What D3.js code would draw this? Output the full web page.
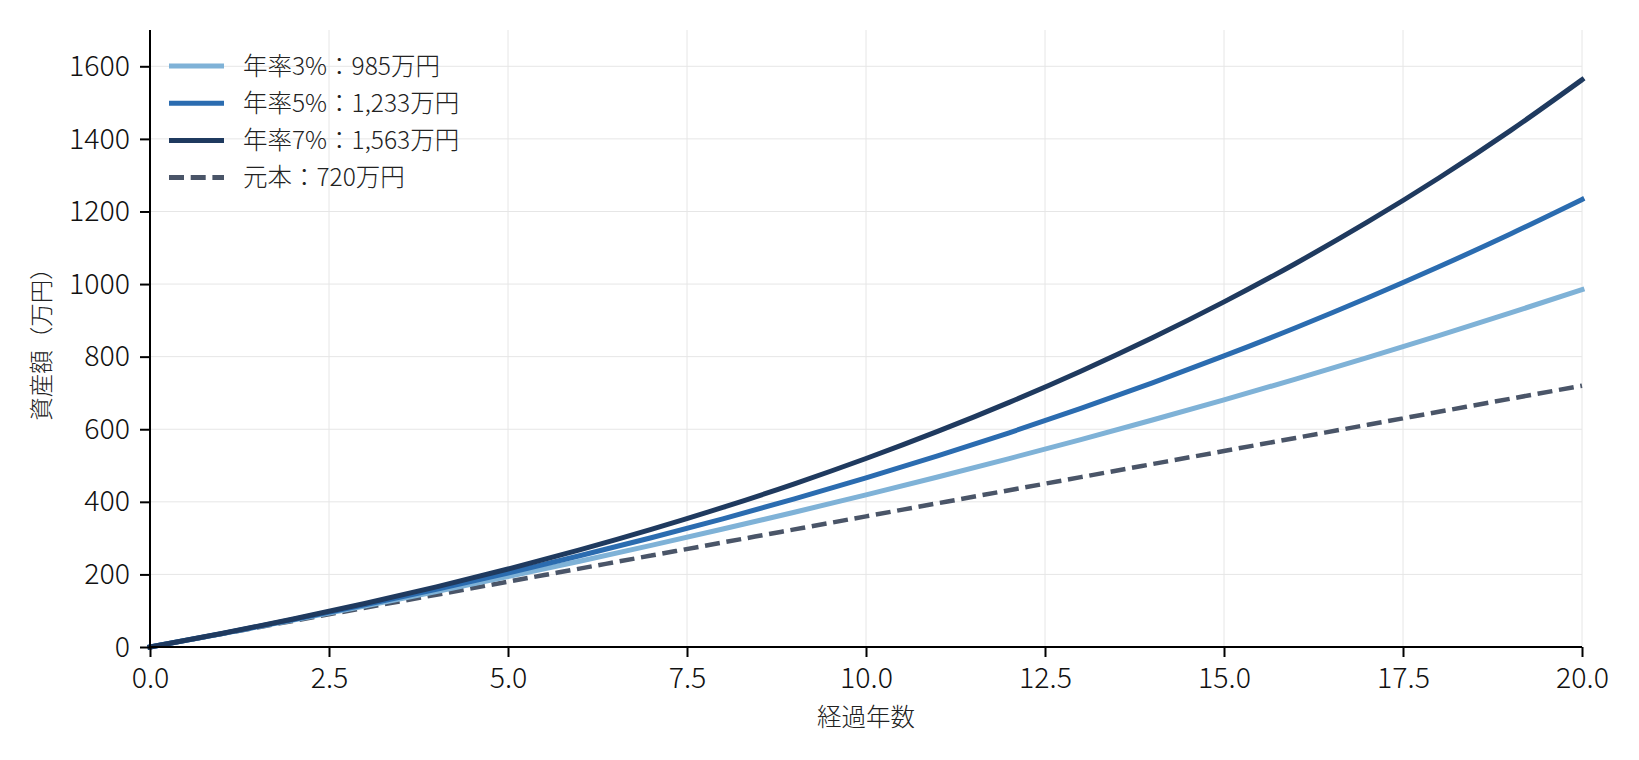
<!DOCTYPE html>
<html><head><meta charset="utf-8">
<script src="https://cdn.jsdelivr.net/npm/d3@7"></script>
<style>
html,body{margin:0;padding:0;background:#fff;}
svg{display:block;font-family:"Noto Sans CJK JP","Noto Sans",sans-serif;}
text{font-weight:300;}
</style></head><body>
<svg id="chart" width="1639" height="760"></svg>
<script>
// years elapsed
const years = [0,1,2,3,4,5,6,7,8,9,10,11,12,13,14,15,16,17,18,19,20];
// asset values (万円)
const rate3 = [0,36.5,74.1,112.9,152.8,193.9,236.3,280.0,325.0,371.4,419.2,468.5,519.2,571.5,625.4,680.9,738.1,797.1,857.8,920.4,984.9];
const rate5 = [0,36.8,75.6,116.3,159.0,204.0,251.3,301.0,353.2,408.1,465.8,526.5,590.3,657.3,727.8,801.9,879.7,961.6,1047.6,1138.0,1233.1];
const rate7 = [0,37.2,77.0,119.8,165.6,214.8,267.5,324.0,384.6,449.6,519.3,594.0,674.1,760.0,852.1,950.9,1056.8,1170.4,1292.2,1422.8,1562.8];
const principal = [0,36,72,108,144,180,216,252,288,324,360,396,432,468,504,540,576,612,648,684,720];
const seriesNames = ["年率3%：985万円","年率5%：1,233万円","年率7%：1,563万円","元本：720万円"];
const seriesColors = ["#7fb2d7","#2b6cb0","#1f3a5f","#4a5568"];
const xTicks = [0,2.5,5,7.5,10,12.5,15,17.5,20];
const yTicks = [0,200,400,600,800,1000,1200,1400,1600];
const xLabel = "経過年数";
const yLabel = "資産額（万円）";

const svg = d3.select("#chart");
const m = {left:150, right:1639-1582, top:30, bottom:760-647};
const W = 1639 - m.left - m.right, H = 760 - m.top - m.bottom;
const x = d3.scaleLinear().domain([0,20]).range([m.left, m.left+W]);
const y = d3.scaleLinear().domain([0,1700]).range([m.top+H, m.top]);

// grid
const g = svg.append("g");
g.selectAll(".gx").data(xTicks).join("line")
  .attr("x1",d=>x(d)).attr("x2",d=>x(d)).attr("y1",m.top).attr("y2",m.top+H)
  .attr("stroke","#e6e6e6").attr("stroke-width",1);
g.selectAll(".gy").data(yTicks).join("line")
  .attr("x1",m.left).attr("x2",m.left+W).attr("y1",d=>y(d)).attr("y2",d=>y(d))
  .attr("stroke","#e6e6e6").attr("stroke-width",1);

// lines
const allSeries = [rate3, rate5, rate7, principal];
const line = d3.line().x((d,i)=>x(years[i])).y(d=>y(d)).curve(d3.curveMonotoneX);
const order = [3,0,1,2];
order.forEach(k=>{
  svg.append("path").datum(allSeries[k]).attr("d",line)
    .attr("fill","none").attr("stroke",seriesColors[k])
    .attr("stroke-width",k===3?4.5:5)
    .attr("stroke-dasharray",k===3?"15,6.7":null)
    .attr("stroke-linecap",k===3?"butt":"square");
});

// axes
const xAxis = d3.axisBottom(x).tickValues(xTicks).tickFormat(d3.format(".1f")).tickSizeOuter(0).tickSize(10).tickPadding(11);
const yAxis = d3.axisLeft(y).tickValues(yTicks).tickFormat(d=>String(d)).tickSizeOuter(0).tickSize(10).tickPadding(10);
const gx = svg.append("g").attr("transform",`translate(0,${m.top+H})`).call(xAxis);
const gy = svg.append("g").attr("transform",`translate(${m.left},0)`).call(yAxis);
[gx,gy].forEach(a=>{
  a.select(".domain").attr("stroke","#000").attr("stroke-width",2);
  a.selectAll(".tick line").attr("stroke","#000").attr("stroke-width",2);
  a.selectAll(".tick text").attr("fill","#111").style("font-size","28.5px").style("font-family",'"Noto Sans CJK JP",sans-serif');
});
gx.select(".domain").attr("d",`M${m.left},0H${m.left+W}`);
gy.select(".domain").attr("d",`M0,${m.top+H}V${m.top}`);

// axis labels
svg.append("text").attr("x",m.left+W/2).attr("y",726).attr("text-anchor","middle")
  .style("font-size","24.5px").attr("fill","#222").text(xLabel);
svg.append("text").attr("transform",`translate(50,${m.top+H/2}) rotate(-90)`).attr("text-anchor","middle")
  .style("font-size","23.5px").attr("fill","#222").text(yLabel);

// legend
const legY0 = 66, legDy = 37.2;
seriesNames.forEach((name,k)=>{
  const ly = legY0 + k*legDy;
  svg.append("line").attr("x1",169).attr("x2",224).attr("y1",ly).attr("y2",ly)
    .attr("stroke",seriesColors[k]).attr("stroke-width",5)
    .attr("stroke-dasharray",k===3?"15,6.7":null);
  svg.append("text").attr("x",243).attr("y",ly).attr("dy","0.36em")
    .style("font-size","24.5px").attr("fill","#222").text(name);
});
</script>
</body></html>
